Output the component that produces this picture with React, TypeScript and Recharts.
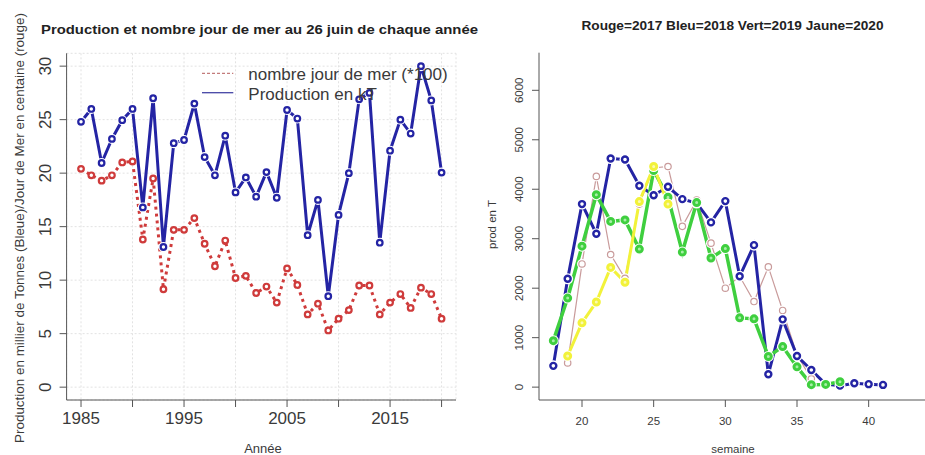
import React from 'react';
import { LineChart, Line, XAxis, YAxis, CartesianGrid } from 'recharts';

// ---------- Left chart data ----------
const years = [
  1985, 1986, 1987, 1988, 1989, 1990, 1991, 1992, 1993, 1994,
  1995, 1996, 1997, 1998, 1999, 2000, 2001, 2002, 2003, 2004,
  2005, 2006, 2007, 2008, 2009, 2010, 2011, 2012, 2013, 2014,
  2015, 2016, 2017, 2018, 2019, 2020,
];
const productionKT = [
  24.8, 26.0, 20.95, 23.2, 24.95, 26.0, 16.8, 27.0, 13.1, 22.8,
  23.1, 26.5, 21.5, 19.8, 23.5, 18.2, 19.6, 17.8, 20.1, 17.7,
  25.9, 25.1, 14.2, 17.5, 8.5, 16.1, 20.0, 26.9, 27.5, 13.5,
  22.1, 25.0, 23.7, 30.0, 26.8, 20.05,
];
const joursMer = [
  20.4, 19.8, 19.3, 19.8, 21.0, 21.1, 13.8, 19.5, 9.15, 14.7,
  14.7, 15.8, 13.4, 11.3, 13.7, 10.2, 10.4, 8.8, 9.4, 7.9,
  11.1, 9.55, 6.8, 7.8, 5.3, 6.4, 7.2, 9.5, 9.5, 6.8,
  7.9, 8.7, 7.4, 9.3, 8.7, 6.4,
];
const leftXTicks = [1985, 1990, 1995, 2000, 2005, 2010, 2015, 2020];
const leftXLabels = ['1985', '', '1995', '', '2005', '', '2015', ''];
const leftYTicks = [0, 5, 10, 15, 20, 25, 30];

// ---------- Right chart data ----------
const weeks = [18, 19, 20, 21, 22, 23, 24, 25, 26, 27, 28, 29, 30, 31, 32, 33, 34, 35, 36, 37, 38, 39, 40, 41];
const prod2017 = [null, 490, 2490, 4260, 2680, 2200, 3700, 4430, 4460, 3250, 3780, 2910, 2000, 2240, 1730, 2430, 1550, 650, 170, null, null, null, null, null];
const prod2018 = [430, 2190, 3700, 3100, 4620, 4600, 4070, 3880, 4050, 3800, 3720, 3330, 3760, 2240, 2870, 260, 1370, 630, 345, 60, 30, 80, 60, 45];
const prod2019 = [940, 1800, 2850, 3890, 3350, 3380, 2790, 4380, 3840, 2730, 3730, 2610, 2800, 1400, 1380, 620, 820, 410, 50, 55, 110, null, null, null];
const prod2020 = [null, 630, 1300, 1720, 2420, 2120, 3750, 4460, 3700, null, null, null, null, null, null, null, null, null, null, null, null, null, null, null];
const rightXTicks = [20, 25, 30, 35, 40];
const rightYTicks = [0, 1000, 2000, 3000, 4000, 5000, 6000];

const leftData = years.map((year, i) => ({ year, prod: productionKT[i], jours: joursMer[i] }));
const rightData = weeks.map((w, i) => ({ w, p17: prod2017[i], p18: prod2018[i], p19: prod2019[i], p20: prod2020[i] }));

const FONT = '"Liberation Sans", Arial, Helvetica, sans-serif';
const AXIS = '#555';
const LABEL = '#3a3a3a';

const BLUE = '#2424a4';
const RED = '#cf3b3b';
const GREEN = '#3fcf3f';
const YELLOW = '#f2f23a';
const ROSY = '#c99b9b';

function makeDot(key: string, color: string, r: number, sw: number, fill: string, halo: number) {
  return (props: any) => {
    const { cx, cy, index, payload } = props;
    const v = payload ? payload[key] : null;
    if (cx == null || cy == null || v == null || Number.isNaN(cy)) return <g key={`${key}-${index}`} />;
    return (
      <g key={`${key}-${index}`}>
        {halo > 0 && <circle cx={cx} cy={cy} r={halo} fill="#fff" />}
        <circle cx={cx} cy={cy} r={r} stroke={color} strokeWidth={sw} fill={fill} />
      </g>
    );
  };
}

const RotTick = (props: any) => {
  const { x, y, payload, fs, dx } = props;
  const xx = x + dx;
  return (
    <text x={xx} y={y} transform={`rotate(-90 ${xx} ${y})`} textAnchor="middle" fontSize={fs} fontFamily={FONT} fill={LABEL}>
      {payload.value}
    </text>
  );
};

export default function App() {
  return (
    <div style={{ position: 'absolute', left: 0, top: 0, width: 925, height: 455, background: '#fff', overflow: 'hidden' }}>
      <div style={{ position: 'absolute', left: 0, top: 0 }}>
        <LineChart width={470} height={455} data={leftData} margin={{ top: 53.3, right: 14, bottom: 25, left: 0 }}>
          <CartesianGrid xAxisId="b" yAxisId="l" stroke="#e2e2e2" strokeDasharray="2 2" />
          <XAxis
            xAxisId="b"
            dataKey="year"
            type="number"
            domain={[1983.6, 2021.4]}
            ticks={leftXTicks}
            interval={0}
            allowDataOverflow
            tickFormatter={(v: number) => leftXLabels[leftXTicks.indexOf(v)] ?? ''}
            height={30}
            tickSize={7}
            tickMargin={4.7}
            stroke={AXIS}
            tick={{ fontSize: 17, fill: LABEL, fontFamily: FONT }}
          />
          <XAxis xAxisId="t" orientation="top" type="number" domain={[1983.6, 2021.4]} height={0} tick={false} tickLine={false} stroke={AXIS} allowDataOverflow />
          <YAxis
            yAxisId="l"
            type="number"
            domain={[-1.2, 31.2]}
            ticks={leftYTicks}
            interval={0}
            allowDataOverflow
            width={66.6}
            tickSize={7}
            tickMargin={2}
            stroke={AXIS}
            tick={<RotTick fs={17} dx={-7} />}
          />
          <YAxis yAxisId="r" orientation="right" type="number" domain={[-1.2, 31.2]} width={0} tick={false} tickLine={false} stroke={AXIS} />
          <Line
            xAxisId="b"
            yAxisId="l"
            dataKey="jours"
            stroke={RED}
            strokeWidth={3}
            strokeDasharray="3 4"
            dot={makeDot('jours', RED, 2.8, 2.2, '#fff', 0)}
            isAnimationActive={false}
          />
          <Line
            xAxisId="b"
            yAxisId="l"
            dataKey="prod"
            stroke={BLUE}
            strokeWidth={3}
            dot={makeDot('prod', BLUE, 2.8, 2.2, '#fff', 5)}
            isAnimationActive={false}
          />
        </LineChart>
      </div>

      <div style={{ position: 'absolute', left: 470, top: 0 }}>
        <LineChart width={455} height={455} data={rightData} margin={{ top: 52.7, right: 0, bottom: 25, left: 0 }}>
          <XAxis
            xAxisId="b"
            dataKey="w"
            type="number"
            domain={[17, 43.93]}
            ticks={rightXTicks}
            interval={0}
            allowDataOverflow
            height={30}
            tickSize={7}
            tickMargin={10}
            stroke={AXIS}
            tick={{ fontSize: 11.5, fill: LABEL, fontFamily: FONT }}
          />
          <XAxis xAxisId="t" orientation="top" type="number" domain={[17, 43.93]} height={0} tick={false} tickLine={false} stroke={AXIS} allowDataOverflow />
          <YAxis
            yAxisId="l"
            type="number"
            domain={[-260, 6760]}
            ticks={rightYTicks}
            interval={0}
            allowDataOverflow
            width={69}
            tickSize={7}
            tickMargin={2}
            stroke={AXIS}
            tick={<RotTick fs={11.5} dx={-6.6} />}
          />
          <Line xAxisId="b" yAxisId="l" dataKey="p17" stroke={ROSY} strokeWidth={1.2} dot={makeDot('p17', ROSY, 3.2, 1.2, '#fff', 5)} isAnimationActive={false} />
          <Line xAxisId="b" yAxisId="l" dataKey="p18" stroke={BLUE} strokeWidth={3} dot={makeDot('p18', BLUE, 3, 2.4, '#fff', 5.5)} isAnimationActive={false} />
          <Line xAxisId="b" yAxisId="l" dataKey="p19" stroke={GREEN} strokeWidth={3.5} dot={makeDot('p19', GREEN, 3, 3, '#a8eea8', 5.5)} isAnimationActive={false} />
          <Line xAxisId="b" yAxisId="l" dataKey="p20" stroke={YELLOW} strokeWidth={3} dot={makeDot('p20', YELLOW, 3, 3, '#fafab0', 5.5)} isAnimationActive={false} />
        </LineChart>
      </div>

      <svg width={925} height={455} style={{ position: 'absolute', left: 0, top: 0, pointerEvents: 'none' }}>
        <text x={259.5} y={34} textAnchor="middle" fontSize={13} fontWeight="bold" fontFamily={FONT} fill="#222" textLength={437} lengthAdjust="spacingAndGlyphs">
          Production et nombre jour de mer au 26 juin de chaque année
        </text>
        <text x={732.5} y={30} textAnchor="middle" fontSize={12.5} fontWeight="bold" fontFamily={FONT} fill="#222" textLength={302} lengthAdjust="spacingAndGlyphs">
          Rouge=2017 Bleu=2018 Vert=2019 Jaune=2020
        </text>
        <text x={263} y={452.5} textAnchor="middle" fontSize={13} fontFamily={FONT} fill={LABEL}>Année</text>
        <text x={733} y={453} textAnchor="middle" fontSize={11.5} fontFamily={FONT} fill={LABEL}>semaine</text>
        <text x={24} y={228} transform="rotate(-90 24 228)" textAnchor="middle" fontSize={12.5} fontFamily={FONT} fill={LABEL} textLength={430} lengthAdjust="spacingAndGlyphs">
          Production en millier de Tonnes (Bleue)/Jour de Mer en centaine (rouge)
        </text>
        <text x={496} y={224.5} transform="rotate(-90 496 224.5)" textAnchor="middle" fontSize={11.5} fontFamily={FONT} fill={LABEL}>prod en T</text>
        {/* legend */}
        <line x1={202} y1={73.3} x2={233.3} y2={73.3} stroke="#b45a5a" strokeWidth={1} strokeDasharray="3 2" />
        <text x={248.3} y={80} fontSize={17} fontFamily={FONT} fill={LABEL}>nombre jour de mer (*100)</text>
        <line x1={202} y1={92.7} x2={233.3} y2={92.7} stroke="#4545a5" strokeWidth={1.3} />
        <text x={248.3} y={99.5} fontSize={17} fontFamily={FONT} fill={LABEL}>Production en kT</text>
      </svg>
    </div>
  );
}
